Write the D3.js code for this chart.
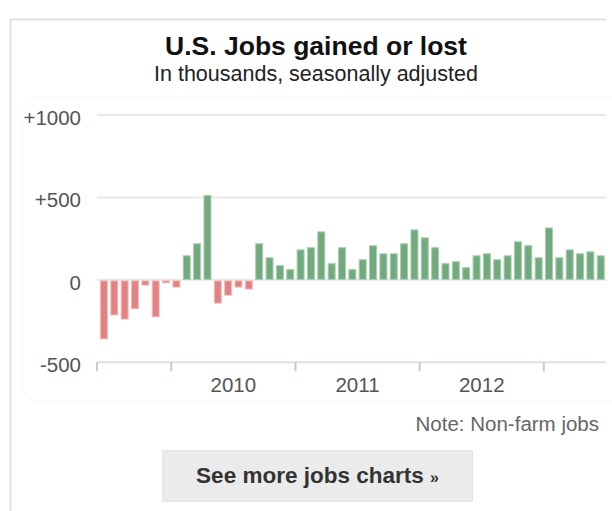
<!DOCTYPE html>
<html lang="en">
<head>
<meta charset="utf-8">
<style>
  body { margin: 0; background: #fff; }
  svg { display: block; font-family: "Liberation Sans", Arial, sans-serif; }
</style>
</head>
<body>
<script src="https://d3js.org/d3.v7.min.js"></script>
<script>
// monthly change in non-farm payrolls, thousands (Jun 2009 .. Jun 2013)
var months = [
  "2009-06","2009-07","2009-08","2009-09","2009-10","2009-11","2009-12",
  "2010-01","2010-02","2010-03","2010-04","2010-05","2010-06","2010-07","2010-08","2010-09","2010-10","2010-11","2010-12",
  "2011-01","2011-02","2011-03","2011-04","2011-05","2011-06","2011-07","2011-08","2011-09","2011-10","2011-11","2011-12",
  "2012-01","2012-02","2012-03","2012-04","2012-05","2012-06","2012-07","2012-08","2012-09","2012-10","2012-11","2012-12",
  "2013-01","2013-02","2013-03","2013-04","2013-05","2013-06"
];
var jobs = [
  -358, -213, -238, -175, -32, -224, -18,
  -44, 149, 222, 514, -141, -93, -44, -56, 222, 137, 89, 65,
  185, 198, 294, 101, 198, 65, 125, 210, 161, 161, 222, 306,
  258, 198, 101, 113, 77, 149, 161, 125, 149, 234, 210, 137,
  318, 137, 185, 161, 173, 149
];
var yTicks = [-500, 0, 500, 1000];
var yearLabels = ["2010", "2011", "2012"];

var width = 612, height = 511;

var svg = d3.select("body").append("svg")
  .attr("width", width)
  .attr("height", height);

// panel frame
svg.append("path")
  .attr("d", "M10.5,511 L10.5,19.5 L606,19.5")
  .attr("fill", "none")
  .attr("stroke", "#e2e2e2")
  .attr("stroke-width", 2);

// very faint box round the plot
svg.append("rect")
  .attr("x", 22).attr("y", 97)
  .attr("width", 620).attr("height", 305)
  .attr("rx", 18)
  .attr("fill", "none")
  .attr("stroke", "#fafafa")
  .attr("stroke-width", 1.5);

svg.append("text")
  .attr("x", 316).attr("y", 54.5)
  .attr("text-anchor", "middle")
  .attr("font-size", 26.5)
  .attr("font-weight", "bold")
  .attr("fill", "#111")
  .text("U.S. Jobs gained or lost");

svg.append("text")
  .attr("x", 316).attr("y", 80.5)
  .attr("text-anchor", "middle")
  .attr("font-size", 21.5)
  .attr("fill", "#222")
  .text("In thousands, seasonally adjusted");

var x = d3.scaleBand()
  .domain(months)
  .range([98.2, 606.5])
  .paddingInner(0.23)
  .paddingOuter(0.17);

var y = d3.scaleLinear()
  .domain([-500, 1000])
  .range([362.3, 115]);

var gap = (x.step() - x.bandwidth()) / 2;
var x0 = 97, x1 = 606;

// grid lines
svg.append("g")
  .selectAll("line")
  .data(yTicks)
  .join("line")
  .attr("x1", x0).attr("x2", x1)
  .attr("y1", d => y(d)).attr("y2", d => y(d))
  .attr("stroke", d => d === -500 ? "#dde1e6" : "#e8e8e8")
  .attr("stroke-width", 2);

svg.append("g")
  .selectAll("text")
  .data(yTicks)
  .join("text")
  .attr("x", 81)
  .attr("y", d => y(d) + 10)
  .attr("text-anchor", "end")
  .attr("font-size", 20.5)
  .attr("fill", "#555")
  .text(d => d > 0 ? "+" + d : d);

// bars
svg.append("g")
  .selectAll("rect")
  .data(jobs)
  .join("rect")
  .attr("x", (d, i) => x(months[i]) + 0.5)
  .attr("width", x.bandwidth() - 1)
  .attr("y", d => d >= 0 ? y(d) + 0.5 : y(0) + 1)
  .attr("height", d => Math.max(1, Math.abs(y(d) - y(0)) - 1))
  .attr("fill", d => d >= 0 ? "#72aa7d" : "#e38282")
  .attr("stroke", d => d >= 0 ? "#a6cdb0" : "#f2bcbc")
  .attr("stroke-width", 1);

// year ticks: axis start and each January
var janMonths = months.filter(m => m.slice(5) === "01");
var tickX = [x0].concat(janMonths.map(m => x(m) - gap));

svg.append("g")
  .selectAll("line")
  .data(tickX)
  .join("line")
  .attr("x1", d => d).attr("x2", d => d)
  .attr("y1", y(-500)).attr("y2", y(-500) + 9)
  .attr("stroke", "#c3cbd8")
  .attr("stroke-width", 2);

svg.append("g")
  .selectAll("text")
  .data(yearLabels)
  .join("text")
  .attr("x", d => {
    var a = x(d + "-01") - gap;
    var b = x((+d + 1) + "-01") - gap;
    return (a + b) / 2;
  })
  .attr("y", 392)
  .attr("text-anchor", "middle")
  .attr("font-size", 20.5)
  .attr("fill", "#555")
  .text(d => d);

svg.append("text")
  .attr("x", 599).attr("y", 431)
  .attr("text-anchor", "end")
  .attr("font-size", 20.5)
  .attr("fill", "#666")
  .text("Note: Non-farm jobs");

// button
svg.append("rect")
  .attr("x", 162.5).attr("y", 450.5)
  .attr("width", 310).attr("height", 51)
  .attr("fill", "#ebebeb")
  .attr("stroke", "#e3e3e3")
  .attr("stroke-width", 1);

var btn = svg.append("text")
  .attr("x", 317.5).attr("y", 483)
  .attr("text-anchor", "middle")
  .attr("font-size", 22.5)
  .attr("font-weight", "bold")
  .attr("fill", "#333");
btn.append("tspan").text("See more jobs charts ");
btn.append("tspan").attr("font-size", 16).text("»");
</script>
</body>
</html>
